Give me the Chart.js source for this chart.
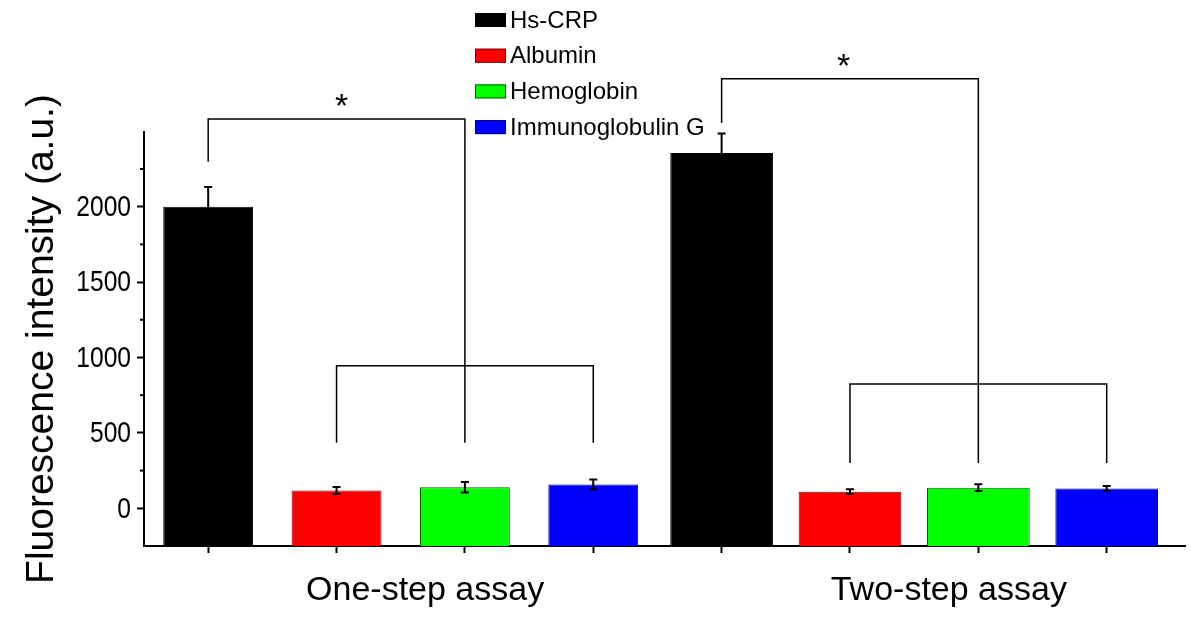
<!DOCTYPE html>
<html>
<head>
<meta charset="utf-8">
<script src="https://cdn.jsdelivr.net/npm/chart.js@4.4.0/dist/chart.umd.min.js"></script>
<style>
  html, body { margin: 0; padding: 0; background: #fff; }
  #wrap { width: 1200px; height: 617px; }
</style>
</head>
<body>
<div id="wrap"><canvas id="myChart" width="1200" height="617"></canvas></div>
<script>
const categories = ['Hs-CRP', 'Albumin', 'Hemoglobin', 'Immunoglobulin G'];
const groups = ['One-step assay', 'Two-step assay'];
const oneStepValues = [2000, 118, 139, 158];
const oneStepErrors = [130, 24, 35, 33];
const twoStepValues = [2355, 110, 137, 132];
const twoStepErrors = [130, 16, 23, 15];
const yTicks = [0, 500, 1000, 1500, 2000];

const barColors = ['#000000', '#ff0000', '#00ff00', '#0000ff'];
const edgeColors = ['#000000', '#7a0000', '#006400', '#00007a'];
const SANS = '"Liberation Sans", Arial, sans-serif';

const errors = [oneStepErrors, twoStepErrors];
const values = [oneStepValues, twoStepValues];

// error bars on top of each bar
const errorBars = {
    id: 'errorBars',
    afterDatasetsDraw(chart) {
        const { ctx, scales: { y } } = chart;
        ctx.save();
        ctx.strokeStyle = '#000';
        ctx.lineWidth = 2;
        chart.data.datasets.forEach((ds, d) => {
            const meta = chart.getDatasetMeta(d);
            meta.data.forEach((bar, i) => {
                const top = y.getPixelForValue(values[d][i] + errors[d][i]);
                const bot = y.getPixelForValue(values[d][i] - errors[d][i]);
                ctx.beginPath();
                ctx.moveTo(bar.x, top); ctx.lineTo(bar.x, bot);
                ctx.moveTo(bar.x - 4, top); ctx.lineTo(bar.x + 4, top);
                ctx.moveTo(bar.x - 4, bot); ctx.lineTo(bar.x + 4, bot);
                ctx.stroke();
            });
        });
        ctx.restore();
    }
};

// brackets, stars, minor ticks, narrow tick labels, group labels and legend
const extras = {
    id: 'extras',
    afterDraw(chart) {
        const { ctx, scales: { x, y }, chartArea } = chart;
        ctx.save();

        // minor ticks on y axis
        ctx.strokeStyle = '#000';
        ctx.lineWidth = 2;
        for (let v = 250; v < 2495; v += 500) {
            const py = y.getPixelForValue(v);
            ctx.beginPath();
            ctx.moveTo(chartArea.left - 4, py);
            ctx.lineTo(chartArea.left, py);
            ctx.stroke();
        }

        // y tick labels, squeezed like a narrow face
        ctx.fillStyle = '#000';
        ctx.font = `30px ${SANS}`;
        ctx.textAlign = 'right';
        ctx.textBaseline = 'middle';
        yTicks.forEach(v => {
            const py = y.getPixelForValue(v);
            ctx.save();
            ctx.translate(chartArea.left - 13, py + 1);
            ctx.scale(0.82, 1);
            ctx.fillText(String(v), 0, 0);
            ctx.restore();
        });

        // significance brackets
        const brackets = [
            { big: [0, 2, 2581, 2298, 435], small: [1, 3, 945, 435], star: [1.04, 2581] },
            { big: [4, 6, 2848, 2554, 300], small: [5, 7, 824, 300], star: [4.95, 2848] }
        ];
        ctx.lineWidth = 1.5;
        brackets.forEach(b => {
            const [a, c, top, footL, footR] = b.big;
            ctx.beginPath();
            ctx.moveTo(x.getPixelForValue(a), y.getPixelForValue(footL));
            ctx.lineTo(x.getPixelForValue(a), y.getPixelForValue(top));
            ctx.lineTo(x.getPixelForValue(c), y.getPixelForValue(top));
            ctx.lineTo(x.getPixelForValue(c), y.getPixelForValue(footR));
            ctx.stroke();
            const [s1, s2, lvl, foot] = b.small;
            ctx.beginPath();
            ctx.moveTo(x.getPixelForValue(s1), y.getPixelForValue(foot));
            ctx.lineTo(x.getPixelForValue(s1), y.getPixelForValue(lvl));
            ctx.lineTo(x.getPixelForValue(s2), y.getPixelForValue(lvl));
            ctx.lineTo(x.getPixelForValue(s2), y.getPixelForValue(foot));
            ctx.stroke();
            ctx.fillStyle = '#000';
            ctx.font = `34px ${SANS}`;
            ctx.textAlign = 'center';
            ctx.textBaseline = 'alphabetic';
            ctx.fillText('*', x.getPixelForValue(b.star[0]), y.getPixelForValue(b.star[1]) - 2);
        });

        // group labels under the x axis
        ctx.font = `34px ${SANS}`;
        ctx.textAlign = 'center';
        ctx.textBaseline = 'alphabetic';
        ctx.fillText(groups[0], x.getPixelForValue(1.69), 600);
        ctx.fillText(groups[1], x.getPixelForValue(5.77), 600);

        // legend
        ctx.font = `24px ${SANS}`;
        ctx.textAlign = 'left';
        ctx.textBaseline = 'middle';
        categories.forEach((name, i) => {
            const cy = 20 + i * 35.7;
            ctx.fillStyle = barColors[i];
            ctx.fillRect(475, cy - 7, 31, 14);
            ctx.strokeStyle = edgeColors[i];
            ctx.lineWidth = 1;
            ctx.strokeRect(475.5, cy - 6.5, 30, 13);
            ctx.fillStyle = '#000';
            ctx.fillText(name, 510, cy + 1);
        });

        ctx.restore();
    }
};

const ctx = document.getElementById('myChart').getContext('2d');
new Chart(ctx, {
    type: 'bar',
    data: {
        datasets: [
            {
                label: groups[0],
                data: oneStepValues.map((v, i) => ({ x: i, y: v })),
                backgroundColor: barColors,
                borderColor: edgeColors,
                borderWidth: 1,
                barPercentage: 0.7,
                categoryPercentage: 1,
                grouped: false,
                base: -250
            },
            {
                label: groups[1],
                data: twoStepValues.map((v, i) => ({ x: i + 4, y: v })),
                backgroundColor: barColors,
                borderColor: edgeColors,
                borderWidth: 1,
                barPercentage: 0.8,
                categoryPercentage: 1,
                grouped: false,
                base: -250
            }
        ]
    },
    options: {
        responsive: false,
        animation: false,
        layout: { padding: { top: 132, right: 15, left: 0, bottom: 0 } },
        plugins: {
            legend: { display: false },
            tooltip: { enabled: false }
        },
        scales: {
            x: {
                type: 'linear',
                offset: false,
                min: -0.5,
                max: 7.61,
                afterFit(scale) { scale.height = 71; },
                afterBuildTicks(scale) {
                    scale.ticks = [0, 1, 2, 3, 4, 5, 6, 7].map(v => ({ value: v }));
                },
                ticks: { callback: () => '' },
                grid: { drawOnChartArea: false, offset: false, tickLength: 7, tickColor: '#000', tickWidth: 2 },
                border: { color: '#000', width: 2 }
            },
            y: {
                min: -250,
                max: 2495,
                afterFit(scale) { scale.width = 144; },
                afterBuildTicks(scale) { scale.ticks = yTicks.map(v => ({ value: v })); },
                ticks: { callback: () => '' },
                grid: { drawOnChartArea: false, tickLength: 7, tickColor: '#000', tickWidth: 2 },
                border: { color: '#000', width: 2 },
                title: {
                    display: true,
                    text: 'Fluorescence intensity (a.u.)',
                    color: '#000',
                    font: { family: SANS, size: 39 },
                    padding: { top: 19, bottom: 0 }
                }
            }
        }
    },
    plugins: [errorBars, extras]
});
</script>
</body>
</html>
